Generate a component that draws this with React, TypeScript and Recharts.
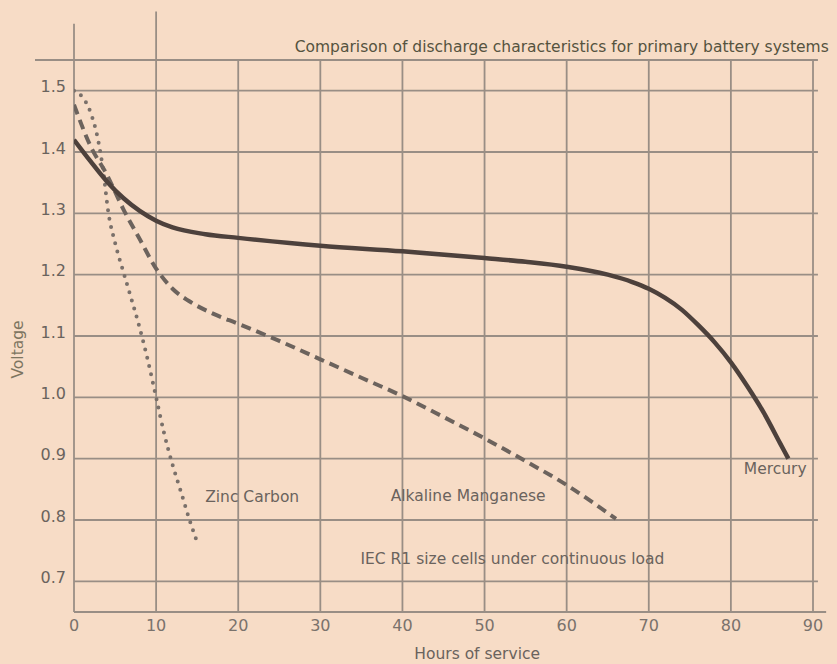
import React from "react";
import { LineChart, Line, XAxis, YAxis, ReferenceLine, ReferenceDot } from "recharts";

// ---- data ----
const hourTicks = [0, 10, 20, 30, 40, 50, 60, 70, 80, 90];
const voltTicks = [0.7, 0.8, 0.9, 1.0, 1.1, 1.2, 1.3, 1.4, 1.5];

const mercuryHours = [0, 2, 4, 6, 8, 10, 12, 16, 20, 30, 40, 50, 55, 60, 65, 68, 70, 72, 74, 76, 78, 80, 82, 84, 86, 87];
const mercuryVolts = [1.42, 1.385, 1.352, 1.325, 1.304, 1.288, 1.277, 1.266, 1.26, 1.247, 1.238, 1.227, 1.221, 1.213, 1.2, 1.188, 1.177, 1.162, 1.143, 1.118, 1.09, 1.057, 1.018, 0.975, 0.925, 0.9];

const alkalineHours = [0, 2, 4, 6, 8, 10, 12, 14, 17, 20, 25, 30, 35, 40, 45, 50, 55, 60, 66];
const alkalineVolts = [1.477, 1.41, 1.363, 1.307, 1.258, 1.21, 1.177, 1.157, 1.136, 1.12, 1.092, 1.062, 1.032, 1.002, 0.968, 0.933, 0.896, 0.857, 0.802];

const zincHours = [0, 1, 2, 3, 3.5, 4.2, 5, 6, 7, 8, 9, 10, 11, 12, 13, 14, 15.1];
const zincVolts = [1.5, 1.49, 1.465, 1.415, 1.375, 1.3, 1.252, 1.205, 1.16, 1.113, 1.06, 1.0, 0.94, 0.89, 0.847, 0.803, 0.76];

const seriesLabels = [
  { text: "Zinc Carbon", x: 21.7, y: 0.839 },
  { text: "Alkaline Manganese", x: 48, y: 0.84 },
  { text: "Mercury", x: 85.4, y: 0.884 },
  { text: "IEC R1 size cells under continuous load", x: 53.4, y: 0.738 },
];
const titleText = "Comparison of discharge characteristics for primary battery systems";
const xAxisTitle = "Hours of service";
const yAxisTitle = "Voltage";

const zip = (xs: number[], ys: number[]) => xs.map((x, i) => ({ x, y: ys[i] }));
const mercury = zip(mercuryHours, mercuryVolts);
const alkaline = zip(alkalineHours, alkalineVolts);
const zinc = zip(zincHours, zincVolts);

// ---- style ----
const BG = "#f7dcc6";
const GRID = "#998e85";
const TEXT = "#6a635d";
const FONT = "DejaVu Sans";

const Y_MIN = 0.65;
const Y_MAX = 1.55;

export default function App() {
  const gridStroke = { stroke: GRID, strokeWidth: 1.8 };
  return (
    <div style={{ position: "absolute", left: 0, top: 0, width: 837, height: 664, background: BG }}>
      <LineChart width={837} height={664} margin={{ top: 60, right: 24, bottom: 0, left: 0 }}>
        <XAxis
          type="number"
          dataKey="x"
          domain={[0, 90]}
          ticks={hourTicks}
          allowDataOverflow
          axisLine={false}
          tickLine={false}
          height={52}
          tick={{ fill: "#7a726c", fontSize: 16, fontFamily: FONT }}
        />
        <YAxis
          type="number"
          dataKey="y"
          domain={[Y_MIN, Y_MAX]}
          ticks={voltTicks}
          allowDataOverflow
          axisLine={false}
          tickLine={false}
          width={74}
          tickFormatter={(v: number) => v.toFixed(1)}
          tick={{ fill: TEXT, fontSize: 16, fontFamily: FONT, dy: -4 }}
        />
        {voltTicks.map((v) => (
          <ReferenceLine
            key={"h" + v}
            segment={[{ x: 0, y: v }, { x: 90.6, y: v }]}
            ifOverflow="visible"
            {...gridStroke}
          />
        ))}
        <ReferenceLine segment={[{ x: -4.75, y: Y_MAX }, { x: 90.6, y: Y_MAX }]} ifOverflow="visible" {...gridStroke} />
        <ReferenceLine segment={[{ x: 0, y: Y_MIN }, { x: 91.6, y: Y_MIN }]} ifOverflow="visible" {...gridStroke} />
        {hourTicks.map((h) => (
          <ReferenceLine
            key={"v" + h}
            segment={[{ x: h, y: Y_MIN }, { x: h, y: h === 0 ? 1.609 : h === 10 ? 1.629 : Y_MAX }]}
            ifOverflow="visible"
            {...gridStroke}
          />
        ))}
        <Line
          data={zinc}
          dataKey="y"
          type="monotone"
          stroke="#7a706a"
          strokeWidth={4}
          strokeDasharray="0 8.5"
          strokeLinecap="round"
          dot={false}
          activeDot={false}
          isAnimationActive={false}
        />
        <Line
          data={alkaline}
          dataKey="y"
          type="monotone"
          stroke="#6c635d"
          strokeWidth={4}
          strokeDasharray="10 6"
          dot={false}
          activeDot={false}
          isAnimationActive={false}
        />
        <Line
          data={mercury}
          dataKey="y"
          type="monotone"
          stroke="#4d413c"
          strokeWidth={4.5}
          dot={false}
          activeDot={false}
          isAnimationActive={false}
        />
        {seriesLabels.map((l) => (
          <ReferenceDot
            key={l.text}
            x={l.x}
            y={l.y}
            r={0}
            fill="none"
            stroke="none"
            ifOverflow="visible"
            label={{ value: l.text, position: "center", fill: TEXT, fontSize: 15.5, fontFamily: FONT }}
          />
        ))}
        <ReferenceDot
          x={59.4}
          y={1.572}
          r={0}
          fill="none"
          stroke="none"
          ifOverflow="visible"
          label={{ value: titleText, position: "center", fill: "#55533f", fontSize: 15.5, fontFamily: FONT }}
        />
        <ReferenceDot
          x={49.1}
          y={0.582}
          r={0}
          fill="none"
          stroke="none"
          ifOverflow="visible"
          label={{ value: xAxisTitle, position: "center", fill: TEXT, fontSize: 15.5, fontFamily: FONT }}
        />
        <ReferenceDot
          x={-6.94}
          y={1.078}
          r={0}
          fill="none"
          stroke="none"
          ifOverflow="visible"
          label={{ value: yAxisTitle, position: "center", angle: -90, fill: "#7d7560", fontSize: 15.5, fontFamily: FONT }}
        />
      </LineChart>
    </div>
  );
}
